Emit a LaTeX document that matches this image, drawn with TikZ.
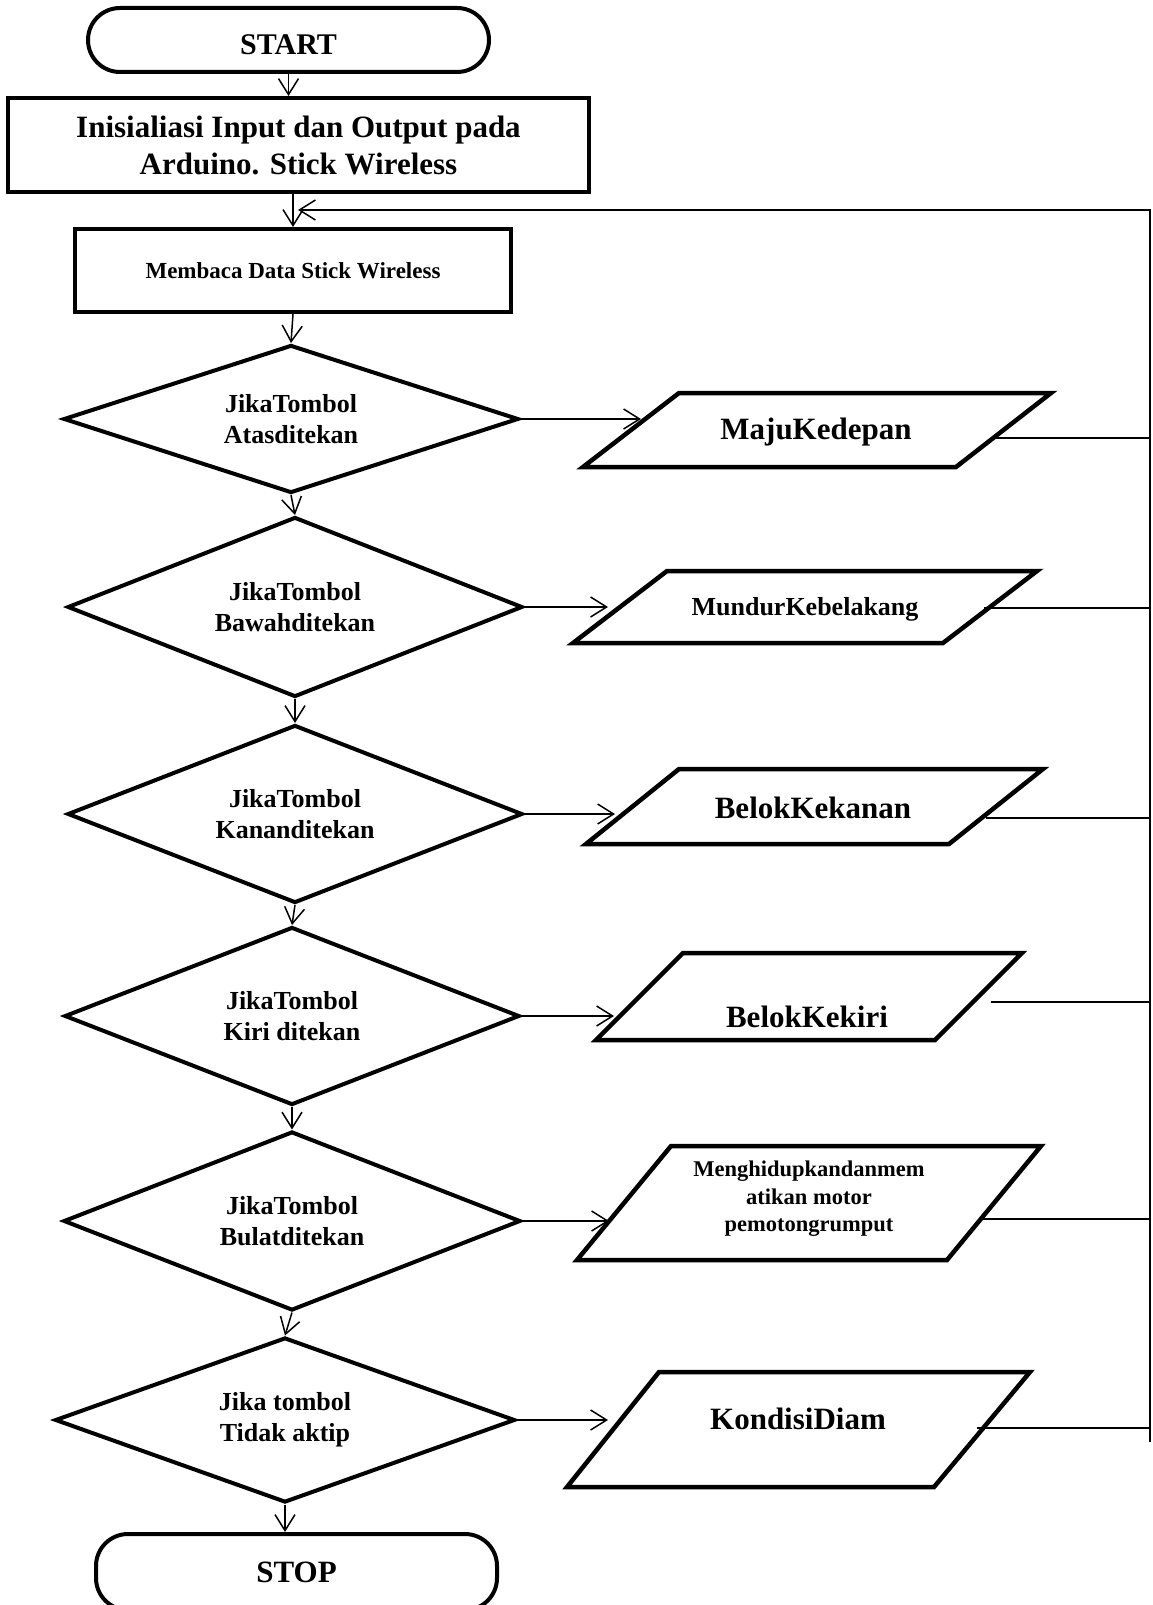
\documentclass[tikz,border=0pt]{standalone}
\usepackage{fontspec}
\setmainfont{Liberation Serif}
\usetikzlibrary{shapes.geometric,arrows.meta}
\tikzset{
  thick outline/.style={draw=black,line width=4pt},
  termbox/.style={thick outline,rounded corners=32pt,minimum width=401pt,inner sep=0pt},
  procbox/.style={thick outline,inner sep=0pt,align=center},
  decbox/.style={diamond,aspect=2.6,thick outline,inner sep=0pt,align=center,
    font=\bfseries\fontsize{26}{31}\selectfont},
  paratext/.style={inner sep=0pt,align=center},
  arr/.style={line width=1.5pt,-{Straight Barb[length=16pt,width=20pt,line width=1.5pt]}},
  ln/.style={line width=1.5pt},
  paraline/.style={line width=4.5pt,line join=miter}
}
\begin{document}
\begin{tikzpicture}[x=1pt,y=-1pt]
\useasboundingbox (0,0) rectangle (1152,1605);
\fill[white] (0,0) rectangle (1152,1605);

% terminals and processes
\node[termbox,minimum height=64pt,font=\bfseries\fontsize{30}{36}\selectfont] (start) at (288.5,40) {\raisebox{-5pt}[20pt][0pt]{START}};
\node[procbox,minimum width=581pt,minimum height=94pt,font=\bfseries\fontsize{31}{37}\selectfont] (init) at (298.5,145) {Inisialiasi Input dan Output pada\\Arduino. Stick Wireless};
\node[procbox,minimum width=436pt,minimum height=83pt,font=\bfseries\fontsize{23}{28}\selectfont] (memb) at (293,270.5) {\raisebox{-3pt}[16pt][5pt]{Membaca Data Stick Wireless}};

% decisions
\node[decbox,minimum width=455pt,minimum height=148pt] (d1) at (291,419) {JikaTombol\\Atasditekan};
\node[decbox,minimum width=455pt,minimum height=180pt] (d2) at (295,607) {JikaTombol\\Bawahditekan};
\node[decbox,minimum width=455pt,minimum height=178pt] (d3) at (295,814) {JikaTombol\\Kananditekan};
\node[decbox,minimum width=455pt,minimum height=178pt] (d4) at (292,1016) {JikaTombol\\Kiri ditekan};
\node[decbox,minimum width=457pt,minimum height=179pt] (d5) at (292,1221) {JikaTombol\\Bulatditekan};
\node[decbox,minimum width=460pt,minimum height=165pt] (d6) at (285,1420) {Jika tombol\\Tidak aktip};

\node[termbox,minimum height=76pt,font=\bfseries\fontsize{31}{37}\selectfont] (stop) at (296.5,1572) {STOP};

% parallelograms (outputs)
\draw[paraline] (679,393) -- (1051,393) -- (956,467) -- (583,467) -- cycle;
\node[paratext,font=\bfseries\fontsize{31}{37}\selectfont] (p1) at (816,432) {MajuKedepan};
\draw[paraline] (667,571) -- (1037,571) -- (943,643) -- (573,643) -- cycle;
\node[paratext,font=\bfseries\fontsize{26}{31}\selectfont] (p2) at (805,609) {MundurKebelakang};
\draw[paraline] (679,769) -- (1043,769) -- (949,844) -- (586,844) -- cycle;
\node[paratext,font=\bfseries\fontsize{31}{37}\selectfont] (p3) at (813,808) {BelokKekanan};
\draw[paraline] (683,953) -- (1022,953) -- (935,1040) -- (596,1040) -- cycle;
\node[paratext,font=\bfseries\fontsize{31}{37}\selectfont] (p4) at (807,1017) {BelokKekiri};
\draw[paraline] (671,1146) -- (1041,1146) -- (947,1260) -- (577,1260) -- cycle;
\node[paratext,font=\bfseries\fontsize{22.5}{27.5}\selectfont] (p5) at (809,1199) {Menghidupkandanmem\\atikan motor\\pemotongrumput};
\draw[paraline] (659,1372) -- (1030,1372) -- (934,1487) -- (567,1487) -- cycle;
\node[paratext,font=\bfseries\fontsize{31}{37}\selectfont] (p6) at (798,1419) {KondisiDiam};

% connector end points on the parallelogram edges
\coordinate (p1in) at (641,419);
\coordinate (p2in) at (608,607);
\coordinate (p3in) at (615,814);
\coordinate (p4in) at (614,1016);
\coordinate (p5in) at (609,1221);
\coordinate (p6in) at (608,1420);
\coordinate (p1out) at (993,438);
\coordinate (p2out) at (984,608);
\coordinate (p3out) at (986,818);
\coordinate (p4out) at (991,1002);
\coordinate (p5out) at (981,1219);
\coordinate (p6out) at (977,1428);
\coordinate (fbtop) at (1150,210);
\coordinate (fbbot) at (1150,1442);
\coordinate (fbtip) at (298,210);

% main flow
\draw[arr] (start.south) -- (start.south |- init.north);
\draw[arr] (memb.north |- init.south) -- (memb.north);
\draw[arr] (memb.south) -- (d1.north);
\draw[arr] (d1.south) -- (d2.north);
\draw[arr] (d2.south) -- (d3.north);
\draw[arr] (d3.south) -- (d4.north);
\draw[arr] (d4.south) -- (d5.north);
\draw[arr] (d5.south) -- (d6.north);
\draw[arr] (d6.south) -- (d6.south |- stop.north);

% branches
\draw[arr] (d1.east) -- (p1in);
\draw[arr] (d2.east) -- (p2in);
\draw[arr] (d3.east) -- (p3in);
\draw[arr] (d4.east) -- (p4in);
\draw[arr] (d5.east) -- (p5in);
\draw[arr] (d6.east) -- (p6in);

% feedback
\draw[ln] (p1out) -- (p1out -| fbtop);
\draw[ln] (p2out) -- (p2out -| fbtop);
\draw[ln] (p3out) -- (p3out -| fbtop);
\draw[ln] (p4out) -- (p4out -| fbtop);
\draw[ln] (p5out) -- (p5out -| fbtop);
\draw[ln] (p6out) -- (p6out -| fbtop);
\draw[arr] (fbbot) -- (fbtop) -- (fbtip);
\end{tikzpicture}
\end{document}
